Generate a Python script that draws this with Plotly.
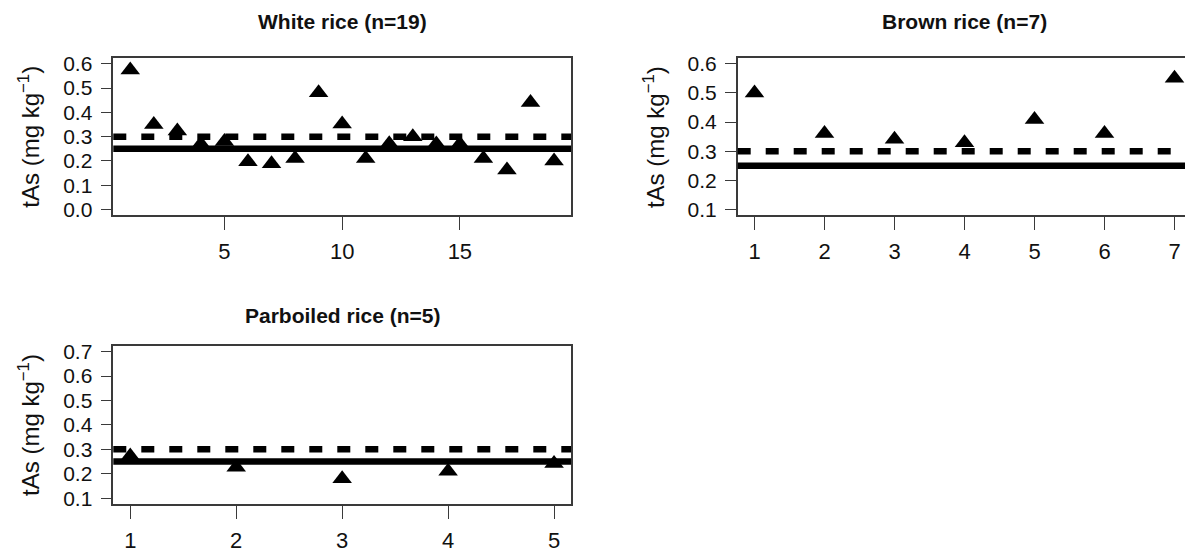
import plotly.graph_objects as go

W, H = 1185, 553

# ---- data ----
white_x = list(range(1, 20))
white_y = [0.575, 0.35, 0.323, 0.27, 0.28, 0.197, 0.188, 0.21, 0.481, 0.352,
           0.21, 0.271, 0.30, 0.27, 0.27, 0.21, 0.163, 0.441, 0.20]
brown_x = list(range(1, 8))
brown_y = [0.50, 0.361, 0.341, 0.329, 0.409, 0.361, 0.551]
parb_x = list(range(1, 6))
parb_y = [0.273, 0.227, 0.179, 0.21, 0.242]

titles = ["White rice (n=19)", "Brown rice (n=7)", "Parboiled rice (n=5)"]
limit_solid = 0.25
limit_dashed = 0.3

white_xticks = [5, 10, 15]
white_yticks = [0.0, 0.1, 0.2, 0.3, 0.4, 0.5, 0.6]
brown_xticks = [1, 2, 3, 4, 5, 6, 7]
brown_yticks = [0.1, 0.2, 0.3, 0.4, 0.5, 0.6]
parb_xticks = [1, 2, 3, 4, 5]
parb_yticks = [0.1, 0.2, 0.3, 0.4, 0.5, 0.6, 0.7]

# ---- layout geometry (pixels) ----
def px_dom_x(a, b):
    return [a / W, min(b / W, 1.0)]

def px_dom_y(top, bottom):
    return [1 - bottom / H, 1 - top / H]

panels = [
    dict(x=white_x, y=white_y, xt=white_xticks, yt=white_yticks,
         xr=[0.28, 19.72], yr=[-0.024, 0.624],
         dx=px_dom_x(113.3, 571), dy=px_dom_y(53.3, 214.3), mirror=True, toff=37),
    dict(x=brown_x, y=brown_y, xt=brown_xticks, yt=brown_yticks,
         xr=[0.76, 0.76 + (1185 - 737.7) / 70.0], yr=[0.08, 0.62],
         dx=px_dom_x(737.7, 1185), dy=px_dom_y(53.3, 214.3), mirror=False, toff=37),
    dict(x=parb_x, y=parb_y, xt=parb_xticks, yt=parb_yticks,
         xr=[0.84, 5.16], yr=[0.076, 0.724],
         dx=px_dom_x(113.3, 571), dy=px_dom_y(348, 510), mirror=True, toff=31),
]

FONT = "Liberation Sans, Arial, sans-serif"
AXC = "#3a3a3a"

fig = go.Figure()
layout = dict(width=W, height=H, margin=dict(l=0, r=0, t=0, b=0),
              paper_bgcolor="white", plot_bgcolor="white", showlegend=False,
              font=dict(family=FONT, color="#111"))
shapes = []
annotations = []

for i, p in enumerate(panels):
    n = "" if i == 0 else str(i + 1)
    xa, ya = "x" + n, "y" + n
    fig.add_trace(go.Scatter(
        x=p["x"], y=p["y"], mode="markers", xaxis=xa, yaxis=ya,
        marker=dict(symbol="triangle-up", size=17, color="black",
                    line=dict(width=0)),
        cliponaxis=True, hoverinfo="skip"))
    layout["xaxis" + n] = dict(
        domain=p["dx"], range=p["xr"], anchor=ya, tickmode="array",
        tickvals=p["xt"], ticktext=[str(v) for v in p["xt"]],
        ticks="outside", ticklen=13, tickwidth=1.3, tickcolor=AXC,
        showline=True, linecolor=AXC, linewidth=1.5, mirror=True,
        showgrid=False, zeroline=False, ticklabelstandoff=3,
        tickfont=dict(size=22, family=FONT, color="#111"))
    layout["yaxis" + n] = dict(
        domain=p["dy"], range=p["yr"], anchor=xa, tickmode="array",
        tickvals=p["yt"], ticktext=[f"{v:.1f}" for v in p["yt"]],
        ticks="outside", ticklen=11, tickwidth=1.3, tickcolor=AXC,
        showline=True, linecolor=AXC, linewidth=1.5, mirror=p["mirror"],
        showgrid=False, zeroline=False, ticklabelstandoff=4,
        tickfont=dict(size=21, family=FONT, color="#111"))
    # reference lines
    shapes.append(dict(type="line", xref=xa + " domain", yref=ya,
                       x0=0, x1=1, y0=limit_solid, y1=limit_solid,
                       line=dict(color="black", width=6.5)))
    shapes.append(dict(type="line", xref=xa + " domain", yref=ya,
                       x0=0, x1=1, y0=limit_dashed, y1=limit_dashed,
                       line=dict(color="black", width=6.5, dash="13px,15px")))
    # title
    if i == 1:
        cx = (737.7 + 1191.8) / 2 / W
    else:
        cx = (p["dx"][0] + p["dx"][1]) / 2
    top_px = H * (1 - p["dy"][1])
    annotations.append(dict(text="<b>" + titles[i] + "</b>", xref="paper", yref="paper",
                            x=cx, y=1 - (top_px - p["toff"]) / H, xanchor="center", yanchor="middle",
                            showarrow=False, font=dict(size=21, family=FONT, color="#111")))
    # y title
    cy = (p["dy"][0] + p["dy"][1]) / 2
    ytx = 29 if i != 1 else 29 + (737.7 - 113.3)
    annotations.append(dict(text="tAs (mg kg<sup>−1</sup>)", xref="paper", yref="paper",
                            x=ytx / W, y=cy, xanchor="center", yanchor="middle",
                            textangle=-90, showarrow=False,
                            font=dict(size=24, family=FONT, color="#111")))

layout["shapes"] = shapes
layout["annotations"] = annotations
fig.update_layout(**layout)
fig.write_html("out.html", config={"displayModeBar": False},
               post_script="document.body.style.margin='0px';document.body.style.overflow='hidden';")
